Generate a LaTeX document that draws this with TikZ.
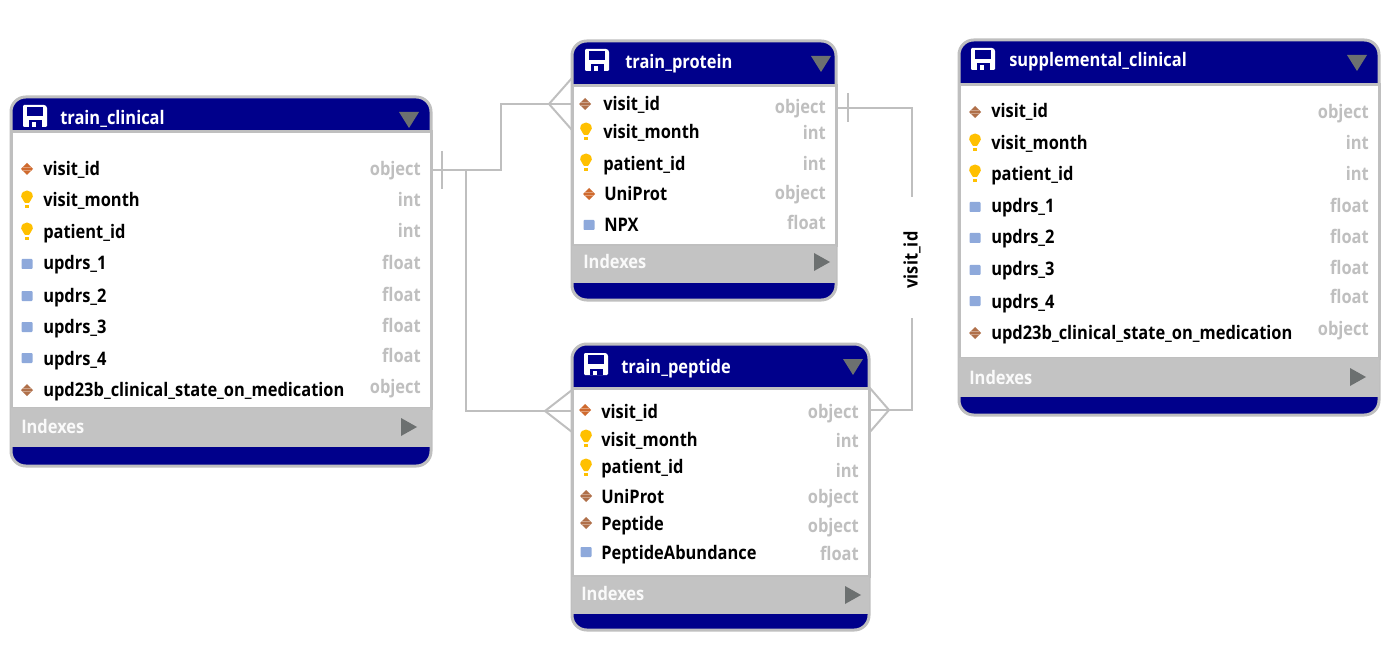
\documentclass[tikz,border=0pt]{standalone}
\usepackage{fontspec}
\setmainfont{Open Sans}[FakeStretch=0.88]
\usetikzlibrary{fit}
\definecolor{headblue}{HTML}{00008B}
\definecolor{framegrey}{HTML}{BFBFBF}
\definecolor{bandgrey}{HTML}{C3C3C3}
\definecolor{arrowgrey}{HTML}{6C7070}
\definecolor{keybulb}{HTML}{FFC000}
\definecolor{numblue}{HTML}{8EA9DB}
\definecolor{idorange}{HTML}{CF6A2E}
\definecolor{idbrown}{HTML}{B0704A}
\tikzset{
  tablebox/.style={draw=framegrey,fill=headblue,line width=2.25pt,rounded corners=11pt,inner sep=0pt,outer sep=0pt},
  fieldarea/.style={draw=framegrey,fill=white,line width=2.25pt},
  indexarea/.style={fill=bandgrey},
  tabletext/.style={inner sep=0pt,text height=10.5pt,text depth=0pt,font=\bfseries\fontsize{14}{16}\selectfont},
  tabletitle/.style={tabletext,anchor=west,text=white},
  fieldname/.style={tabletext,anchor=west},
  fieldtype/.style={tabletext,anchor=east,text=framegrey},
  indexname/.style={tabletext,anchor=west,text=white!92!framegrey},
  link/.style={draw=framegrey,line width=1.5pt},
  linklabel/.style={rotate=90,inner sep=0pt,font=\bfseries\fontsize{14}{16}\selectfont},
  disk/.pic={
    \fill[white,rounded corners=0.8pt] (-12,-11) -- (10,-11) -- (12,-9) -- (12,11) -- (-12,11) -- cycle;
    \fill[headblue] (-8,-9) rectangle (8,0);
    \fill[headblue] (-6,4.5) rectangle (7,11);
    \fill[white] (-3,6.5) rectangle (1,11);
  },
  iddiamond/.pic={
    \fill[#1] (-6,0) -- (0,-6) -- (6,0) -- (0,6) -- cycle;
    \draw[white!35!#1,line width=0.3pt] (-3.8,-2) -- (3.8,-2) (-4.8,1) -- (4.8,1);
  },
  bulb/.pic={
    \fill[keybulb] (-2,3) .. controls (-2.2,0.5) and (-5.8,-0.5) .. (-5.8,-3.5) .. controls (-5.8,-11.5) and (5.8,-11.5) .. (5.8,-3.5) .. controls (5.8,-0.5) and (2.2,0.5) .. (2,3) -- cycle;
    \fill[keybulb] (-2.2,5) rectangle (2.2,8);
  },
  numsquare/.pic={\fill[numblue,rounded corners=0.6pt] (-5.5,-5) rectangle (5.5,5);},
  menudown/.pic={\fill[arrowgrey] (-10,-8) -- (10,-8) -- (0,8) -- cycle;},
  menuright/.pic={\fill[arrowgrey] (-8,-9) -- (8,0) -- (-8,9) -- cycle;},
}
\begin{document}
\begin{tikzpicture}[x=0.75pt,y=-0.75pt]
\useasboundingbox (0,0) rectangle (1395,645);
% train_clinical
\node[tablebox,fit={(11,97)(431,466)}] (clinical) {};
\filldraw[fieldarea] (11,131.5) rectangle (431,408);
\fill[indexarea] (11,408) rectangle (431,447);
\pic at (35,116) {disk};
\node[tabletitle] (clinicalT) at (60,118) {train\_clinical};
\pic at (409,120) {menudown};
\pic at (27,169) {iddiamond=idorange};
\node[fieldname] (C1) at (43,169) {visit\_id}; \node[fieldtype] (C1t) at (421,169) {object};
\pic at (27,200) {bulb};
\node[fieldname] (C2) at (43,200) {visit\_month}; \node[fieldtype] (C2t) at (421,200) {int};
\pic at (27,232) {bulb};
\node[fieldname] (C3) at (43,232) {patient\_id}; \node[fieldtype] (C3t) at (421,231) {int};
\pic at (27,264) {numsquare};
\node[fieldname] (C4) at (43,263) {updrs\_1}; \node[fieldtype] (C4t) at (421,263) {float};
\pic at (27,296) {numsquare};
\node[fieldname] (C5) at (43,295) {updrs\_2}; \node[fieldtype] (C5t) at (421,294) {float};
\pic at (27,327) {numsquare};
\node[fieldname] (C6) at (43,326) {updrs\_3}; \node[fieldtype] (C6t) at (421,325) {float};
\pic at (27,358) {numsquare};
\node[fieldname] (C7) at (43,358) {updrs\_4}; \node[fieldtype] (C7t) at (421,355) {float};
\pic at (27,390) {iddiamond=idbrown};
\node[fieldname] (C8) at (43,389) {upd23b\_clinical\_state\_on\_medication}; \node[fieldtype] (C8t) at (421,386) {object};
\node[indexname] (clinicalI) at (21,426) {Indexes};
\pic at (409,427) {menuright};
% train_protein
\node[tablebox,fit={(572,41)(836,300)}] (protein) {};
\filldraw[fieldarea] (572,85.5) rectangle (836,246);
\fill[indexarea] (572,246) rectangle (836,283);
\pic at (597,60) {disk};
\node[tabletitle] (proteinT) at (625,62) {train\_protein};
\pic at (821,64) {menudown};
\pic at (585,104) {iddiamond=idbrown};
\node[fieldname] (P1) at (603,104) {visit\_id}; \node[fieldtype] (P1t) at (826,107) {object};
\pic at (586,132) {bulb};
\node[fieldname] (P2) at (603,132) {visit\_month}; \node[fieldtype] (P2t) at (826,133) {int};
\pic at (586,163) {bulb};
\node[fieldname] (P3) at (603,164) {patient\_id}; \node[fieldtype] (P3t) at (826,164) {int};
\pic at (589,194) {iddiamond=idorange};
\node[fieldname] (P4) at (604,194) {UniProt}; \node[fieldtype] (P4t) at (826,193) {object};
\pic at (589,225) {numsquare};
\node[fieldname] (P5) at (604,225) {NPX}; \node[fieldtype] (P5t) at (826,223) {float};
\node[indexname] (proteinI) at (583,262) {Indexes};
\pic at (822,262) {menuright};
% train_peptide
\node[tablebox,fit={(572,344)(869,630)}] (peptide) {};
\filldraw[fieldarea] (572,388.5) rectangle (869,576.5);
\fill[indexarea] (572,576.5) rectangle (869,613.5);
\pic at (596,364) {disk};
\node[tabletitle] (peptideT) at (621,366) {train\_peptide};
\pic at (853,367) {menudown};
\pic at (585,410) {iddiamond=idorange};
\node[fieldname] (E1) at (601,411) {visit\_id}; \node[fieldtype] (E1t) at (859,411) {object};
\pic at (586,439) {bulb};
\node[fieldname] (E2) at (601,439) {visit\_month}; \node[fieldtype] (E2t) at (859,440) {int};
\pic at (586,468) {bulb};
\node[fieldname] (E3) at (601,466) {patient\_id}; \node[fieldtype] (E3t) at (859,470) {int};
\pic at (586,496) {iddiamond=idbrown};
\node[fieldname] (E4) at (601,496) {UniProt}; \node[fieldtype] (E4t) at (859,496) {object};
\pic at (586,523) {iddiamond=idbrown};
\node[fieldname] (E5) at (601,523) {Peptide}; \node[fieldtype] (E5t) at (859,525) {object};
\pic at (586,552) {numsquare};
\node[fieldname] (E6) at (601,552) {PeptideAbundance}; \node[fieldtype] (E6t) at (859,553) {float};
\node[indexname] (peptideI) at (581,593) {Indexes};
\pic at (853,595) {menuright};
% supplemental_clinical
\node[tablebox,fit={(959,40)(1379,415)}] (supplemental) {};
\filldraw[fieldarea] (959,84.5) rectangle (1379,358);
\fill[indexarea] (959,358) rectangle (1379,397);
\pic at (983,59) {disk};
\node[tabletitle] (supplementalT) at (1009,60) {supplemental\_clinical};
\pic at (1357,63) {menudown};
\pic at (975,112) {iddiamond=idbrown};
\node[fieldname] (S1) at (991,111) {visit\_id}; \node[fieldtype] (S1t) at (1369,112) {object};
\pic at (975,143) {bulb};
\node[fieldname] (S2) at (991,143) {visit\_month}; \node[fieldtype] (S2t) at (1369,143) {int};
\pic at (975,174) {bulb};
\node[fieldname] (S3) at (991,174) {patient\_id}; \node[fieldtype] (S3t) at (1369,174) {int};
\pic at (975,207) {numsquare};
\node[fieldname] (S4) at (991,206) {updrs\_1}; \node[fieldtype] (S4t) at (1369,206) {float};
\pic at (975,238) {numsquare};
\node[fieldname] (S5) at (991,237) {updrs\_2}; \node[fieldtype] (S5t) at (1369,237) {float};
\pic at (975,270) {numsquare};
\node[fieldname] (S6) at (991,269) {updrs\_3}; \node[fieldtype] (S6t) at (1369,268) {float};
\pic at (975,301) {numsquare};
\node[fieldname] (S7) at (991,301) {updrs\_4}; \node[fieldtype] (S7t) at (1369,296) {float};
\pic at (975,333) {iddiamond=idbrown};
\node[fieldname] (S8) at (991,332) {upd23b\_clinical\_state\_on\_medication}; \node[fieldtype] (S8t) at (1369,328) {object};
\node[indexname] (supplementalI) at (969,377) {Indexes};
\pic at (1358,377) {menuright};
% connectors
\coordinate (J1) at (501,104);
\coordinate (J2) at (466,170);
\coordinate (T1) at (442,170);
\coordinate (A1) at (549,104);
\coordinate (A2) at (545,411);
\draw[link] (clinical.east |- J2) -| (J1) -- (protein.west |- J1);
\draw[link] (J2) |- (peptide.west |- A2);
\draw[link] (T1) ++(0,-19) -- ++(0,38);
\draw[link] (A1) ++(23,-26) -- (A1) -- ++(23,26);
\draw[link] (A2) ++(27,-21) -- (A2) -- ++(27,21);
\node[linklabel] (visitlabel) at (912,260) {visit\_id};
\coordinate (J3) at (912,197);
\coordinate (J4) at (912,318);
\coordinate (T2) at (848,108);
\coordinate (A3) at (889,410);
\draw[link] (protein.east |- T2) -| (J3);
\draw[link] (J4) |- (peptide.east |- A3);
\draw[link] (T2) ++(0,-15) -- ++(0,29);
\draw[link] (A3) ++(-20,-23) -- (A3) -- ++(-20,23);
\end{tikzpicture}
\end{document}
